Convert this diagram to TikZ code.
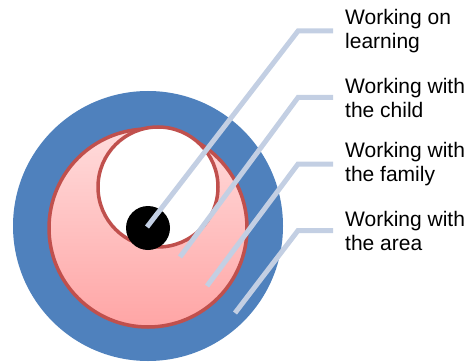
\documentclass[tikz,border=0pt]{standalone}
\usepackage{fontspec}
\setmainfont{Liberation Sans}
\usetikzlibrary{shadows}
\definecolor{areablue}{HTML}{4F81BD}
\definecolor{ringred}{HTML}{C0504D}
\definecolor{pinktop}{HTML}{FFDCDC}
\definecolor{pinkbot}{HTML}{FFA5A5}
\definecolor{leadcol}{HTML}{C3CFE3}
\tikzset{
  layer/.style={circle, inner sep=0pt},
  ring/.style={layer, draw=ringred, line width=3.5pt},
  leader/.style={leadcol, line width=5pt},
  caption/.style={anchor=west, align=left, inner sep=0pt, font=\fontsize{21}{24}\selectfont},
}
\begin{document}
\begin{tikzpicture}[x=1pt,y=1pt]
\useasboundingbox (0,0) rectangle (473,362);
% circles
\node[layer, fill=areablue, minimum size=270pt] (area) at (148,136) {};
\node[ring, top color=pinktop, bottom color=pinkbot, minimum size=198pt,
  drop shadow={shadow xshift=0pt, shadow yshift=-2pt, opacity=0.3}] (family) at (148,134) {};
\node[ring, fill=white, minimum size=120pt] (child) at (158,175) {};
\node[layer, fill=black, minimum size=44pt] (learning) at (148,134) {};
% labels
\node[caption] (learnLbl) at (345,331) {Working on\\learning};
\node[caption] (childLbl) at (345,264.5) {Working with\\the child};
\node[caption] (familyLbl) at (345,198) {Working with\\the family};
\node[caption] (areaLbl) at (345,131.5) {Working with\\the area};
% leader lines
\coordinate (elbow) at (298,0);
\coordinate (learnPt) at (147,135);
\coordinate (childPt) at (180,105);
\coordinate (familyPt) at (207,76);
\coordinate (areaPt) at (235,49);
\draw[leader] (learnPt) -- (elbow |- learnLbl.west) -- ([xshift=-12pt]learnLbl.west);
\draw[leader] (childPt) -- (elbow |- childLbl.west) -- ([xshift=-12pt]childLbl.west);
\draw[leader] (familyPt) -- (elbow |- familyLbl.west) -- ([xshift=-12pt]familyLbl.west);
\draw[leader] (areaPt) -- (elbow |- areaLbl.west) -- ([xshift=-12pt]areaLbl.west);
\end{tikzpicture}
\end{document}
